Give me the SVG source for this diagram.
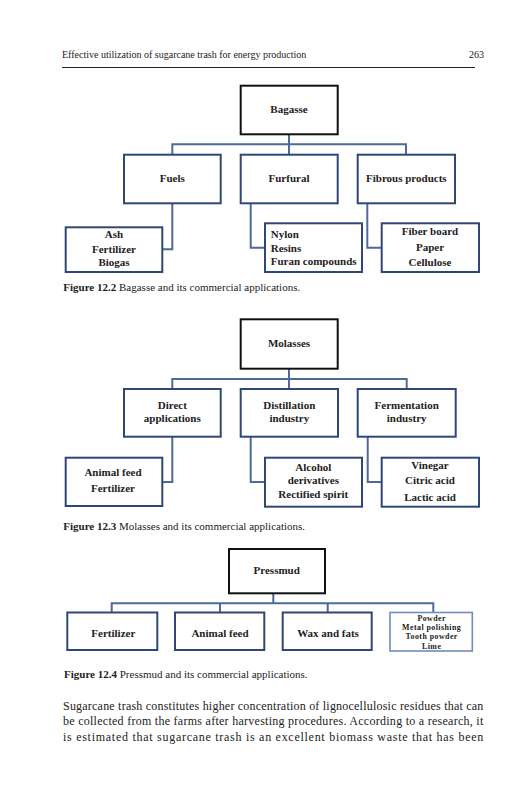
<svg xmlns="http://www.w3.org/2000/svg" width="531" height="800" viewBox="0 0 531 800">
<style>
.pg{font-family:"Liberation Serif","Times New Roman",serif;fill:#222}
.lb{font-family:"Liberation Serif","DejaVu Serif",serif;font-weight:bold;font-size:11px;fill:#222;text-anchor:middle}
.ls{text-anchor:start}
.sm{font-size:7.9px;letter-spacing:0.45px}
.root{fill:#fff;stroke:#111;stroke-width:2}
.kid{fill:#fff;stroke:#2f4776;stroke-width:2}
.lite{fill:#fff;stroke:#6d8cc0;stroke-width:1.6}
.cn{fill:none;stroke:#4d6a9c;stroke-width:2}
</style>
<rect width="531" height="800" fill="#fff"/>
<text class="pg" x="62" y="58" font-size="10">Effective utilization of sugarcane trash for energy production</text>
<text class="pg" x="484" y="58" font-size="10" text-anchor="end">263</text>
<line x1="62" y1="67.5" x2="475" y2="67.5" stroke="#222" stroke-width="1"/>

<g id="connectors">
<path class="cn" d="M289 134.3V144.3M172.3 154.7V144.3H406V154.7M289 144.3V154.7"/>
<path class="cn" d="M172.3 203.3V249.3H162.3M250.7 203.3V247.7H265M367.3 203.3V247.7H381.7"/>
<path class="cn" d="M289 368.7V379M172.3 389V379H406.7V389M289 379V389"/>
<path class="cn" d="M172.3 436.7V482H162.3M250.7 436.7V482H265M367.7 436.7V482H381.7"/>
<path class="cn" d="M273.3 593.3V603.3M111.7 612.5V603.3H433.3V612.5M220 603.3V612.5M327.7 603.3V612.5"/>
</g>

<g id="bagasse"><rect class="root" x="240.7" y="85.7" width="97" height="48.6"/><text class="lb" x="289" y="113.3">Bagasse</text></g>
<g id="fuels"><rect class="kid" x="124" y="154.7" width="96.7" height="48.6"/><text class="lb" x="172.3" y="182">Fuels</text></g>
<g id="furfural"><rect class="kid" x="240.7" y="154.7" width="97" height="48.6"/><text class="lb" x="289" y="182">Furfural</text></g>
<g id="fibrous"><rect class="kid" x="357.7" y="154.7" width="97.3" height="48.6"/><text class="lb" x="406.3" y="182">Fibrous products</text></g>
<g id="ash"><rect class="kid" x="65.7" y="227.3" width="96.6" height="44.7"/><text class="lb" x="114" y="237.5">Ash</text><text class="lb" x="114" y="252.7">Fertilizer</text><text class="lb" x="114" y="266">Biogas</text></g>
<g id="nylon"><rect class="kid" x="265" y="223.3" width="97" height="48.7" stroke="#4d6a9c"/><text class="lb ls" x="270.7" y="238.3">Nylon</text><text class="lb ls" x="270.7" y="251.7">Resins</text><text class="lb ls" x="270.7" y="265">Furan compounds</text></g>
<g id="fiber"><rect class="kid" x="381.7" y="223.3" width="97.3" height="48.7"/><text class="lb" x="430" y="234.5">Fiber board</text><text class="lb" x="430" y="250.7">Paper</text><text class="lb" x="430" y="266">Cellulose</text></g>
<text class="pg" x="63.3" y="290.7" font-size="11"><tspan font-weight="bold">Figure 12.2</tspan>  Bagasse and its commercial applications.</text>

<g id="molasses"><rect class="root" x="240.7" y="319.3" width="97" height="49.4"/><text class="lb" x="289" y="346.7">Molasses</text></g>
<g id="direct"><rect class="kid" x="124" y="389" width="96.7" height="47.7"/><text class="lb" x="172.3" y="409.3">Direct</text><text class="lb" x="172.3" y="421.7">applications</text></g>
<g id="distillation"><rect class="kid" x="240.7" y="389" width="97.3" height="47.7"/><text class="lb" x="289.3" y="409.3">Distillation</text><text class="lb" x="289.3" y="421.7">industry</text></g>
<g id="fermentation"><rect class="kid" x="357.7" y="389" width="98" height="47.7"/><text class="lb" x="406.7" y="409.3">Fermentation</text><text class="lb" x="406.7" y="421.7">industry</text></g>
<g id="animal"><rect class="kid" x="65.7" y="457.7" width="96.6" height="48.3"/><text class="lb" x="113" y="476">Animal  feed</text><text class="lb" x="113" y="492.3">Fertilizer</text></g>
<g id="alcohol"><rect class="kid" x="265" y="457.7" width="97" height="49"/><text class="lb" x="313.3" y="470.7">Alcohol</text><text class="lb" x="313.3" y="484">derivatives</text><text class="lb" x="313.3" y="498">Rectified spirit</text></g>
<g id="vinegar"><rect class="kid" x="381.7" y="457.7" width="97.3" height="49"/><text class="lb" x="430" y="469">Vinegar</text><text class="lb" x="430" y="484.3">Citric acid</text><text class="lb" x="430" y="501">Lactic acid</text></g>
<text class="pg" x="63.3" y="530" font-size="11"><tspan font-weight="bold">Figure 12.3</tspan>  Molasses and its commercial applications.</text>

<g id="pressmud"><rect class="root" x="229" y="549" width="96" height="44.3"/><text class="lb" x="276.7" y="574.3">Pressmud</text></g>
<g id="p-fert"><rect class="kid" x="67.3" y="612.5" width="90" height="37.5"/><text class="lb" x="113.3" y="636.7" font-size="10">Fertilizer</text></g>
<g id="p-animal"><rect class="kid" x="175" y="612.5" width="89.3" height="37.5"/><text class="lb" x="220" y="636.7" font-size="10">Animal feed</text></g>
<g id="p-wax"><rect class="kid" x="282.7" y="612.5" width="89" height="37.5"/><text class="lb" x="328" y="637" font-size="11">Wax and fats</text></g>
<g id="p-powder"><rect class="lite" x="390" y="612.5" width="82.3" height="38.5"/><text class="lb sm" x="431.7" y="620.8">Powder</text><text class="lb sm" x="431.7" y="630.1">Metal polishing</text><text class="lb sm" x="431.7" y="639.4">Tooth powder</text><text class="lb sm" x="431.7" y="648.7">Lime</text></g>
<text class="pg" x="64" y="678.3" font-size="11"><tspan font-weight="bold">Figure 12.4</tspan>  Pressmud and its commercial applications.</text>

<text class="pg" x="63" y="710" font-size="12" textLength="420.3" lengthAdjust="spacing">Sugarcane trash constitutes higher concentration of lignocellulosic residues that can</text>
<text class="pg" x="63" y="725" font-size="12" textLength="420.3" lengthAdjust="spacing">be collected from the farms after harvesting procedures. According to a research, it</text>
<text class="pg" x="63" y="740.7" font-size="12" textLength="420.3" lengthAdjust="spacing">is estimated that sugarcane trash is an excellent biomass waste that has been</text>
</svg>
